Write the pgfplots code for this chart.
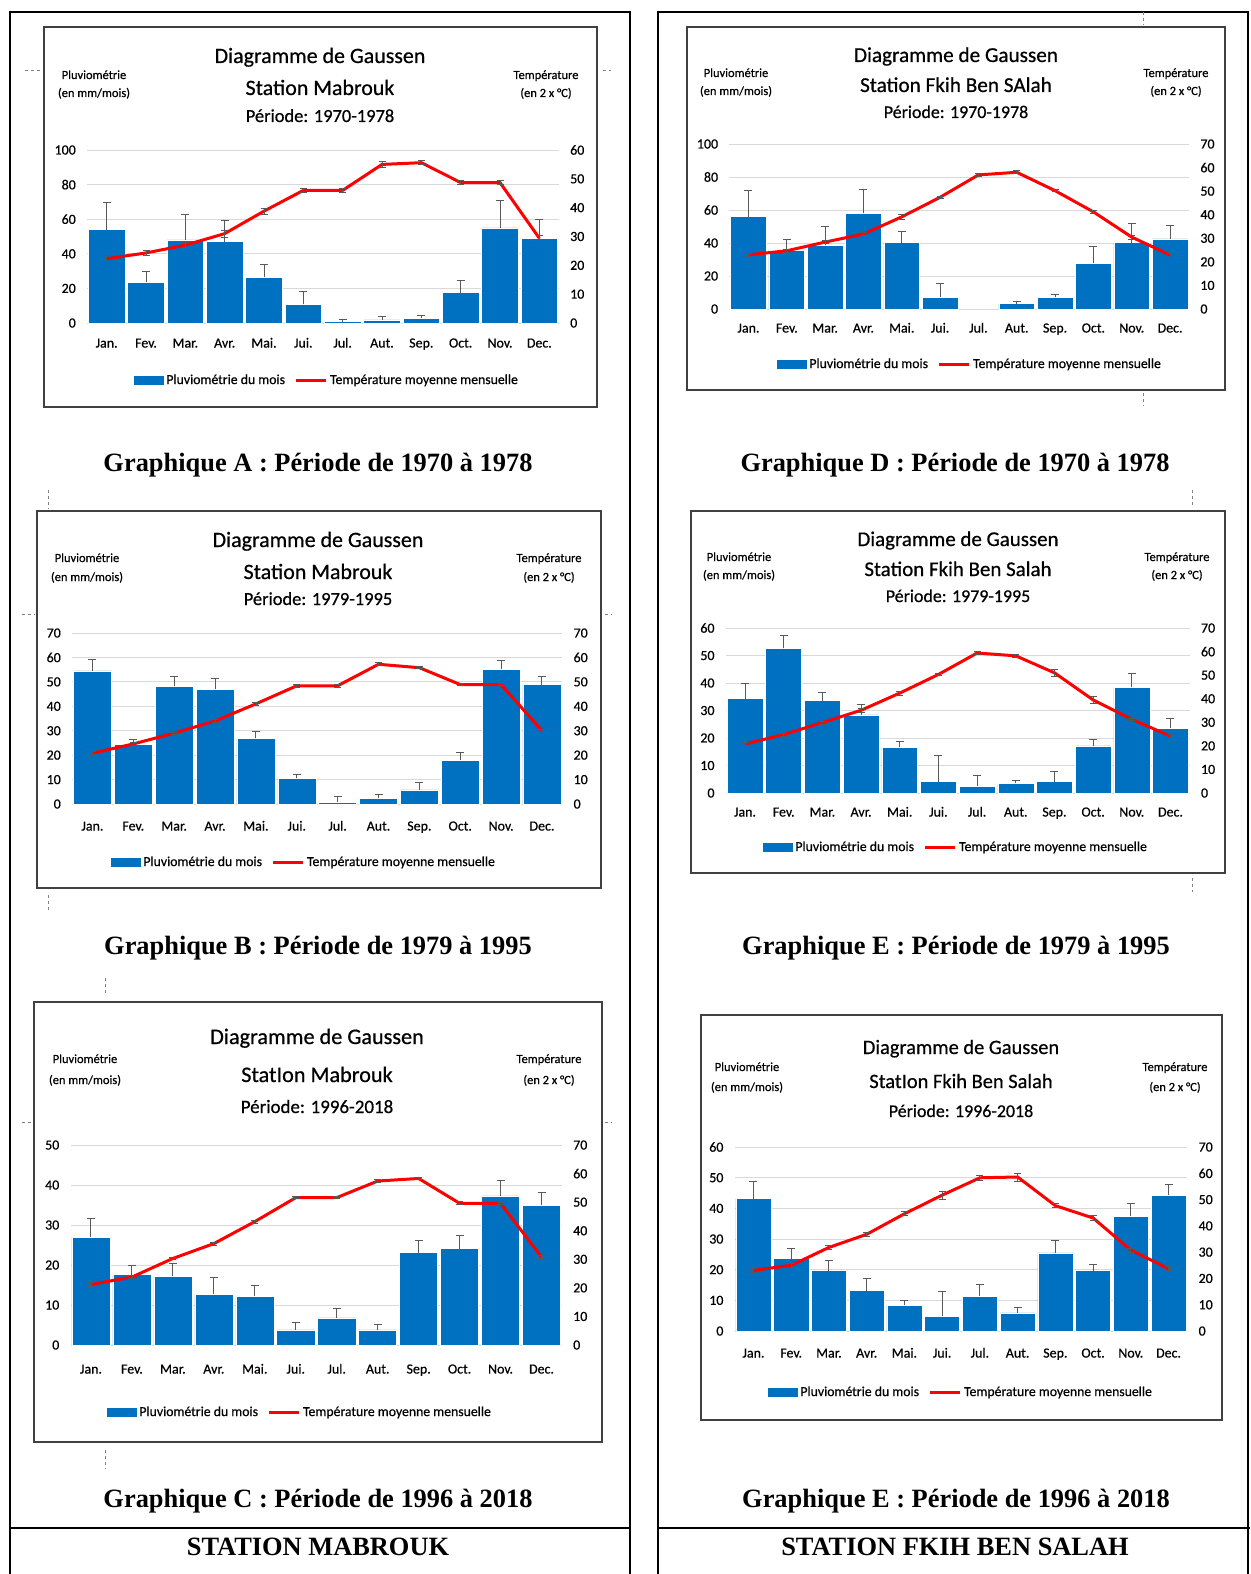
\documentclass[border=0pt]{standalone}
\usepackage{pgfplots}
\pgfplotsset{compat=1.18}
\usepackage{pgfplotstable}
\usepackage{fontspec}
\setmainfont{Carlito}[FakeBold=0.6]
\newfontfamily\capfont{Liberation Serif}
\definecolor{barblue}{HTML}{0070C0}
\definecolor{gridgray}{HTML}{D9D9D9}
\definecolor{errgray}{HTML}{595959}
\definecolor{boxgray}{HTML}{404040}
\newcommand\fs[1]{\fontsize{#1}{#1}\selectfont}

% x rain rerr temp terr
\pgfplotstableread{
x rain rerr temp terr
0 54 15.5 22.3 1
1 23.5 6.5 24.3 0.8
2 48 14.5 27 0.8
3 47 12.5 31 1.2
4 26.5 7.5 38.8 1
5 10.8 7.2 46 0.6
6 0.8 1.2 46 0.6
7 1.8 2.2 55 1.2
8 2.7 1.5 55.6 0.7
9 17.5 7.3 48.7 0.6
10 55 16 48.7 0.6
11 49 11 29.4 1
}\tA
\pgfplotstableread{
x rain rerr temp terr
0 56 15.6 23 0.6
1 35.7 6.3 24.7 0.6
2 38.5 11.3 28.4 0.6
3 57.9 14.7 31.8 0.7
4 40.3 6.7 39.1 1
5 7 8.5 47.4 0.5
6 nan 0 56.9 0.8
7 3.2 1.4 58 0.6
8 7 1.7 50.2 0.4
9 27.6 10.4 41.2 0.8
10 40.3 11.5 30.5 0.8
11 42.5 8.3 22.9 0.8
}\tD
\pgfplotstableread{
x rain rerr temp terr
0 54.5 4.5 20.8 0.6
1 24.3 2.3 24.6 0.6
2 48.2 3.8 29 0.5
3 46.9 4.5 34 0.5
4 26.9 2.6 41 0.6
5 10.5 1.7 48.4 0.6
6 0.8 2.4 48.4 0.6
7 2.3 1.6 57.2 0.6
8 5.8 3 55.8 0.4
9 18 3 48.9 0.4
10 55.1 3.8 48.9 0.4
11 48.9 3.1 30 0.4
}\tB
\pgfplotstableread{
x rain rerr temp terr
0 34.3 5.7 20.8 0.6
1 52.6 4.5 24.8 0.6
2 33.6 2.8 29.9 0.6
3 28.4 3.9 35.1 1
4 16.6 2.1 42.4 0.8
5 4.1 9.7 50.3 0.6
6 2.4 3.8 59.4 0.6
7 3.5 0.9 58.2 0.8
8 4.1 3.9 51 1.5
9 17.1 2.2 39.5 1.3
10 38.4 5.1 31.3 0.5
11 23.6 3.4 24.1 0.6
}\tE
\pgfplotstableread{
x rain rerr temp terr
0 27 4.75 21.2 0.6
1 17.6 2.3 23.8 0.6
2 17.2 3.2 30.3 0.5
3 12.7 4.2 35.5 0.5
4 12.2 2.7 43.2 0.5
5 3.8 1.8 51.6 0.4
6 6.8 2.3 51.6 0.4
7 3.8 1.3 57.4 0.4
8 23.1 3.15 58.3 0.4
9 24.1 3.2 49.6 0.5
10 37.3 3.8 49.6 0.4
11 34.9 3.2 30.8 0.5
}\tC
\pgfplotstableread{
x rain rerr temp terr
0 43.2 5.7 23.1 0.8
1 23.6 3.4 25 0.8
2 19.7 3.2 31.8 0.8
3 13.2 3.8 36.8 0.8
4 8.4 1.5 44.6 0.8
5 4.9 8.1 51.7 1.5
6 11.4 3.7 58.3 1
7 5.9 1.8 58.6 1.5
8 25.5 3.9 47.7 0.8
9 19.7 2 43 0.8
10 37.4 4.3 30.8 0.8
11 44.3 3.4 23.7 0.8
}\tF

\pgfplotsset{
  gbase/.style={scale only axis, xmin=-0.5, xmax=11.5, ymin=0,
    axis line style={draw=none}, major tick length=0pt, clip=false,
    /pgf/number format/assume math mode=true, anchor=south west},
  gleft/.style={gbase, axis x line*=bottom, axis y line*=left,
    xtick={0,...,11},
    xticklabels={Jan.,Fev.,Mar.,Avr.,Mai.,Jui.,Jul.,Aut.,Sep.,Oct.,Nov.,Dec.},
    ymajorgrids, grid style={draw=gridgray, line width=1bp},
    yticklabel style={font=\fs{14}, anchor=east, inner sep=0pt, xshift=-11bp},
    xticklabel style={font=\fs{14}, anchor=base, inner sep=0pt}},
  gright/.style={gbase, axis x line=none, axis y line*=right,
    yticklabel style={font=\fs{14}, anchor=west, inner sep=0pt, xshift=11bp},
    legend cell align=left,
    legend style={draw=none, fill=none, inner sep=0pt, outer sep=0pt,
      font=\fs{13.8}, anchor=west, at={(axis description cs:0,0)},
      legend columns=2,
      /tikz/every odd column/.append style={column sep=3bp},
      /tikz/every even column/.append style={column sep=9bp},
      nodes={inner sep=0pt}}},
  rainbars/.style={ybar, bar width=0.93, bar shift=0pt, fill=barblue, draw=white,
    line width=0.5bp,
    error bars/y dir=plus, error bars/y explicit,
    error bars/error bar style={draw=errgray, line width=1bp},
    error bars/error mark options={rotate=90, draw=errgray, mark size=4bp, line width=1bp}},
  templine/.style={draw=red, line width=3bp, mark=none,
    error bars/y dir=both, error bars/y explicit,
    error bars/error bar style={draw=errgray, line width=0.8bp},
    error bars/error mark options={rotate=90, draw=errgray, mark size=3.5bp, line width=0.8bp},
    legend image code/.code={\draw[red, line width=3bp] (0bp,0bp) -- (30bp,0bp);}},
  barlegend/.style={legend image code/.code={\fill[barblue] (0bp,-4bp) rectangle (29bp,4bp);}}
}

% chart macro: #1 table, #2 L, #3 B, #4 width, #5 height, #6 left max, #7 left step, #8 right max, #9 month shift
\newcommand\gchart[9]{%
  \begin{axis}[gleft, at={(#2bp,-#3bp)}, width=#4bp, height=#5bp,
      ymax=#6, ytick={0,#7,...,#6},
      xticklabel style={yshift=-#9bp}]
    \addplot[rainbars] table[x=x, y=rain, y error=rerr]{#1};
  \end{axis}%
  \begin{axis}[gright, at={(#2bp,-#3bp)}, width=#4bp, height=#5bp,
      ymax=#8, ytick={0,10,...,#8}, legend style={xshift=\legx bp, yshift=-\legy bp}]
    \addlegendimage{barlegend}
    \addlegendentry{Pluviométrie du mois}
    \addplot[templine] table[x=x, y=temp, y error=terr]{#1};
    \addlegendentry{Température moyenne mensuelle}
  \end{axis}%
}

\newcommand\heads[4]{% #1 lx, #2 rx, #3 base1, #4 base2
  \node[anchor=base, inner sep=0pt, font=\fs{12.5}] at (#1,#3) {Pluviométrie};
  \node[anchor=base, inner sep=0pt, font=\fs{12.5}] at (#1,#4) {(en mm/mois)};
  \node[anchor=base, inner sep=0pt, font=\fs{12.5}] at (#2,#3) {Température};
  \node[anchor=base, inner sep=0pt, font=\fs{12.5}] at (#2,#4) {(en 2 x °C)};
}

\begin{document}
\begin{tikzpicture}
\begin{scope}[x=1bp, y=-1bp]
  \path[use as bounding box] (0,0) rectangle (1250,1574);
  % page frames
  \draw[line width=2bp] (10,1574) -- (10,12) -- (630,12) -- (630,1574);
  \draw[line width=2bp] (658,1574) -- (658,12) -- (1248,12) -- (1248,1574);
  \draw[line width=2bp] (10,1528) -- (630,1528);
  \draw[line width=2bp] (658,1528) -- (1250,1528);
  % artefact marks
  \begin{scope}[gray, line width=0.8bp, dashed]
    \draw (25,70) -- (40,70); \draw (603,70) -- (611,70);
    \draw (1143,12) -- (1143,25); \draw (1143,393) -- (1143,405);
    \draw (48,490) -- (48,508); \draw (22,614) -- (35,614); \draw (605,614) -- (612,614);
    \draw (48,895) -- (48,910);
    \draw (1192,490) -- (1192,505); \draw (1192,878) -- (1192,892);
    \draw (105,978) -- (105,995); \draw (22,1122) -- (35,1122); \draw (605,1122) -- (612,1122);
    \draw (105,1450) -- (105,1468);
  \end{scope}
  % chart boxes
  \begin{scope}[draw=boxgray, line width=1.6bp]
    \draw (44,27) rectangle (597,407);
    \draw (687,27) rectangle (1225,390);
    \draw (37,511) rectangle (601,888);
    \draw (691,511) rectangle (1225,873);
    \draw (34,1002) rectangle (602,1442);
    \draw (701,1015) rectangle (1222,1420);
  \end{scope}
  % titles A
  \node[anchor=base, inner sep=0pt, font=\fs{22}] at (320,63) {Diagramme de Gaussen};
  \node[anchor=base, inner sep=0pt, font=\fs{22}] at (320,95) {Station Mabrouk};
  \node[anchor=base, inner sep=0pt, font=\fs{18.5}] at (320,122) {Période: 1970-1978};
  \heads{94}{546}{79}{97}
  % titles D
  \node[anchor=base, inner sep=0pt, font=\fs{21.3}] at (956,62) {Diagramme de Gaussen};
  \node[anchor=base, inner sep=0pt, font=\fs{21.3}] at (956,92) {Station Fkih Ben SAlah};
  \node[anchor=base, inner sep=0pt, font=\fs{18}] at (956,118) {Période: 1970-1978};
  \heads{736}{1176}{77}{95}
  % titles B
  \node[anchor=base, inner sep=0pt, font=\fs{22}] at (318,547) {Diagramme de Gaussen};
  \node[anchor=base, inner sep=0pt, font=\fs{22}] at (318,579) {Station Mabrouk};
  \node[anchor=base, inner sep=0pt, font=\fs{18.5}] at (318,605) {Période: 1979-1995};
  \heads{87}{549}{562}{581}
  % titles E1
  \node[anchor=base, inner sep=0pt, font=\fs{21}] at (958,546) {Diagramme de Gaussen};
  \node[anchor=base, inner sep=0pt, font=\fs{21}] at (958,576) {Station Fkih Ben Salah};
  \node[anchor=base, inner sep=0pt, font=\fs{18}] at (958,602) {Période: 1979-1995};
  \heads{739}{1177}{561}{579}
  % titles C
  \node[anchor=base, inner sep=0pt, font=\fs{22.3}] at (317,1044) {Diagramme de Gaussen};
  \node[anchor=base, inner sep=0pt, font=\fs{22.3}] at (317,1082) {StatIon Mabrouk};
  \node[anchor=base, inner sep=0pt, font=\fs{19}] at (317,1113) {Période: 1996-2018};
  \heads{85}{549}{1063}{1084}
  % titles E2
  \node[anchor=base, inner sep=0pt, font=\fs{20.5}] at (961,1054) {Diagramme de Gaussen};
  \node[anchor=base, inner sep=0pt, font=\fs{20.5}] at (961,1088) {StatIon Fkih Ben Salah};
  \node[anchor=base, inner sep=0pt, font=\fs{18}] at (961,1117) {Période: 1996-2018};
  \heads{747}{1175}{1071}{1091}
  % captions
  \begin{scope}[every node/.style={anchor=base, inner sep=0pt, font=\capfont\bfseries\fs{26.5}}]
    \node at (318,471) {Graphique A : Période de 1970 à 1978};
    \node at (955,471) {Graphique D : Période de 1970 à 1978};
    \node at (318,954) {Graphique B : Période de 1979 à 1995};
    \node at (956,954) {Graphique E : Période de 1979 à 1995};
    \node at (318,1507) {Graphique C : Période de 1996 à 2018};
    \node at (956,1507) {Graphique E : Période de 1996 à 2018};
    \node at (318,1555) {STATION MABROUK};
    \node at (955,1555) {STATION FKIH BEN SALAH};
  \end{scope}
\end{scope}
% charts
\def\legx{47}\def\legy{57}
\gchart{\tA}{87}{323}{472}{173}{100}{20}{60}{24.5}
\def\legx{47.7}\def\legy{55}
\gchart{\tD}{729.3}{309}{459.9}{165}{100}{20}{70}{23.5}
\def\legx{39}\def\legy{58}
\gchart{\tB}{72}{804}{490.4}{171}{70}{10}{70}{26.5}
\def\legx{37.3}\def\legy{54}
\gchart{\tE}{725.7}{793}{464.1}{165}{60}{10}{70}{23.5}
\def\legx{36.5}\def\legy{67}
\gchart{\tC}{70.5}{1345}{491.5}{200}{50}{10}{70}{28.5}
\def\legx{33.4}\def\legy{61}
\gchart{\tF}{734.6}{1331}{452.8}{184}{60}{10}{70}{26.5}
\end{tikzpicture}
\end{document}
